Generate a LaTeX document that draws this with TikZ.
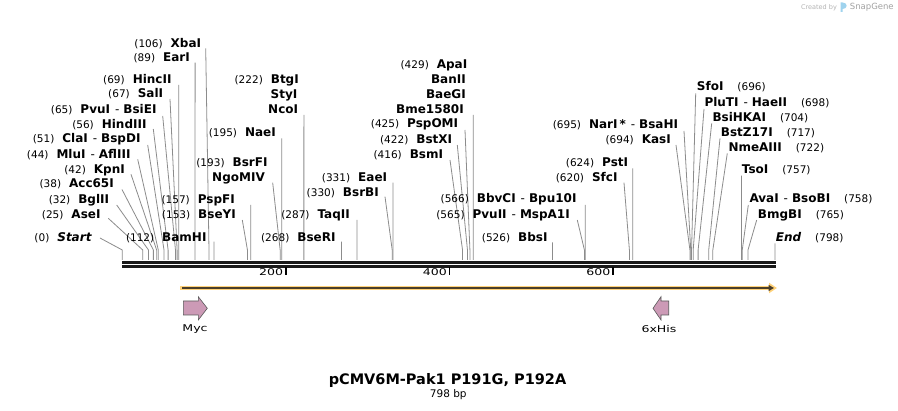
\documentclass[tikz,border=0pt]{standalone}
\usepackage{fontspec}
\usepackage{graphicx}
\setmainfont{DejaVu Sans}
\usetikzlibrary{arrows.meta}
\definecolor{leadc}{HTML}{8C8C8C}
\definecolor{featfill}{HTML}{CC9AB6}
\definecolor{orangeband}{HTML}{FFD27A}
\definecolor{darkline}{HTML}{4A3E2A}
\definecolor{logoblue}{HTML}{9FD3EE}
\definecolor{wmgrey}{HTML}{B4B4B4}
\newcommand\cnum[1]{{\fontsize{10.5}{12}\selectfont(#1)}}
\newcommand\cnm[1]{{\bfseries #1}}
\newcommand\lgap{\hspace{8pt}}
\newcommand\rgap{\hspace{14pt}}
\newcommand\dsh{{\mdseries\hspace{5pt}-\hspace{4pt}}}
\newcommand\wide[1]{\scalebox{1.35}[1]{#1}}
\newcommand\Ltxt[4]{\node[lab,anchor=east] (#1) at (#3,#4) {#2};}
\newcommand\Rtxt[4]{\node[lab,anchor=west] (#1) at (#3,#4) {#2};}
\newcommand\Lead[4]{\coordinate (#1a) at (#3,#4); \coordinate (#1s) at ({122.3+0.8179*#2},250); \draw[leader] (#1a) -- (#1s) -- ++(0,10);}
\tikzset{
  lab/.style={inner sep=0pt, text height=8.8pt, text depth=0pt, font=\fontsize{12}{14}\selectfont},
  leader/.style={draw=leadc, line width=0.8pt},
  barline/.style={line width=2.8pt, black!90},
  tickline/.style={line width=1.5pt, black},
  ticklab/.style={inner sep=0pt, anchor=east, font=\fontsize{9.3}{11}\selectfont},
  featlab/.style={inner sep=0pt, font=\fontsize{9.3}{11}\selectfont},
  featarrow/.style={fill=featfill, draw=black!65, line width=0.6pt, line join=miter}
}
\begin{document}
\begin{tikzpicture}[x=1pt,y=-1pt]
\useasboundingbox[fill=white] (0,0) rectangle (898,411);

% watermark
\node[inner sep=0pt, text=wmgrey, font=\fontsize{6.5}{8}\selectfont] (wm1) at (819,7.3) {Created by};
\fill[logoblue] (840.5,2.5) rectangle (842.5,12) (842.5,2.5) .. controls (848,2.5) and (848,9) .. (842.5,9) -- cycle;
\node[inner sep=0pt, text=wmgrey!90!black, font=\fontsize{8.5}{10}\selectfont] (wm2) at (871.8,7.3) {SnapGene};

% sequence bar
\coordinate (bl1) at (122,262.5); \coordinate (br1) at (776,262.5);
\coordinate (bl2) at (122,266.6); \coordinate (br2) at (776,266.6);
\draw[barline] (bl1) -- (br1);
\draw[barline] (bl2) -- (br2);

% ruler
\foreach \p/\t in {285.9/200, 449.5/400, 613.0/600}{
  \coordinate (tk\t) at (\p,267);
  \draw[tickline] (tk\t) -- ++(0,8);
  \node[ticklab] (tl\t) at (\p-2.5,272.5) {\wide{\t}};
}

% ---- left-anchored labels ----
\Ltxt{t106}{\cnum{106}\lgap\cnm{XbaI}}{201.3}{42.7}   \Lead{c106}{106}{205.7}{48.3}
\Ltxt{t89}{\cnum{89}\lgap\cnm{EarI}}{190}{56.7}       \Lead{c89}{89}{195.1}{62.7}
\Ltxt{t69}{\cnum{69}\lgap\cnm{HincII}}{171.7}{79.3}   \Lead{c69}{69}{178.7}{85}
\Ltxt{t67}{\cnum{67}\lgap\cnm{SalI}}{163.3}{92.7}     \Lead{c67}{67}{170}{99}
\Ltxt{t65}{\cnum{65}\lgap\cnm{PvuI\dsh BsiEI}}{156.7}{109} \Lead{c65}{65}{162.7}{116}
\Ltxt{t56}{\cnum{56}\lgap\cnm{HindIII}}{146.7}{124}   \Lead{c56}{56}{153.3}{129}
\Ltxt{t51}{\cnum{51}\lgap\cnm{ClaI\dsh BspDI}}{140.7}{138.3} \Lead{c51}{51}{147.7}{145}
\Ltxt{t44}{\cnum{44}\lgap\cnm{MluI\dsh AflIII}}{130.7}{154} \Lead{c44}{44}{137.7}{159.3}
\Ltxt{t42}{\cnum{42}\lgap\cnm{KpnI}}{125}{169}        \Lead{c42}{42}{131}{174.3}
\Ltxt{t38}{\cnum{38}\lgap\cnm{Acc65I}}{114}{183.3}    \Lead{c38}{38}{122}{189.5}
\Ltxt{t32}{\cnum{32}\lgap\cnm{BglII}}{109.3}{199}     \Lead{c32}{32}{116.7}{205}
\Ltxt{t25}{\cnum{25}\lgap\cnm{AseI}}{100.7}{214}      \Lead{c25}{25}{108.3}{218.3}
\Ltxt{t0}{\cnum{0}\lgap\cnm{\itshape Start}}{91.7}{236.7} \Lead{c0}{0}{100}{238}
\Ltxt{t112}{\cnum{112}\lgap\cnm{BamHI}}{206.7}{236.7} \Lead{c112}{112}{213.9}{241.7}
\Ltxt{t153}{\cnum{153}\lgap\cnm{BseYI}}{236}{214}     \Lead{c153}{153}{242.3}{220}
\Ltxt{t157}{\cnum{157}\lgap\cnm{PspFI}}{235}{199}     \Lead{c157}{157}{250.7}{205}
\Ltxt{t193}{\cnum{193}\lgap\cnm{BsrFI}}{267.7}{161.7}
\Ltxt{t193b}{\cnm{NgoMIV}}{265}{176.7}                 \Lead{c193}{193}{272.7}{182.7}
\Ltxt{t195}{\cnum{195}\lgap\cnm{NaeI}}{276}{131.7}    \Lead{c195}{195}{281.8}{138.3}
\Ltxt{t222}{\cnum{222}\lgap\cnm{BtgI}}{299}{79}
\Ltxt{t222b}{\cnm{StyI}}{297.5}{93.7}
\Ltxt{t222c}{\cnm{NcoI}}{298.3}{108.7}                 \Lead{c222}{222}{303.9}{115}
\Ltxt{t268}{\cnum{268}\lgap\cnm{BseRI}}{335.7}{236.7} \Lead{c268}{268}{341.5}{241.7}
\Ltxt{t287}{\cnum{287}\lgap\cnm{TaqII}}{350}{214}     \Lead{c287}{287}{357}{220}
\Ltxt{t330}{\cnum{330}\lgap\cnm{BsrBI}}{379}{191.7}   \Lead{c330}{330}{385}{196.7}
\Ltxt{t331}{\cnum{331}\lgap\cnm{EaeI}}{387.3}{176.7}  \Lead{c331}{331}{393}{182.7}
\Ltxt{t429}{\cnum{429}\lgap\cnm{ApaI}}{467.5}{64.3}
\Ltxt{t429b}{\cnm{BanII}}{466}{79}
\Ltxt{t429c}{\cnm{BaeGI}}{466}{93.7}
\Ltxt{t429d}{\cnm{Bme1580I}}{464}{108.7}               \Lead{c429}{429}{473.2}{115}
\Ltxt{t425}{\cnum{425}\lgap\cnm{PspOMI}}{458.3}{123.3} \Lead{c425}{425}{465}{130}
\Ltxt{t422}{\cnum{422}\lgap\cnm{BstXI}}{452.3}{139}   \Lead{c422}{422}{457.3}{145}
\Ltxt{t416}{\cnum{416}\lgap\cnm{BsmI}}{443.3}{154}    \Lead{c416}{416}{450}{160}
\Ltxt{t566}{\cnum{566}\lgap\cnm{BbvCI\dsh Bpu10I}}{576.7}{198.3} \Lead{c566}{566}{585.2}{205}
\Ltxt{t565}{\cnum{565}\lgap\cnm{PvuII\dsh MspA1I}}{570}{214} \Lead{c565}{565}{577.3}{220}
\Ltxt{t526}{\cnum{526}\lgap\cnm{BbsI}}{547.7}{236.7}  \Lead{c526}{526}{552.5}{242.3}
\Ltxt{t624}{\cnum{624}\lgap\cnm{PstI}}{628.3}{162.3}  \Lead{c624}{624}{632.7}{168.3}
\Ltxt{t620}{\cnum{620}\lgap\cnm{SfcI}}{617.7}{176.7}  \Lead{c620}{620}{624}{182.7}
\Ltxt{t695}{\cnum{695}\lgap\cnm{NarI\,*\dsh BsaHI}}{678.3}{124} \Lead{c695}{695}{684}{131}
\Ltxt{t694}{\cnum{694}\lgap\cnm{KasI}}{671}{139.3}    \Lead{c694}{694}{676}{145}

% ---- right-anchored labels ----
\Rtxt{t696}{\cnm{SfoI}\rgap\cnum{696}}{696.7}{86}     \Lead{c696}{696}{695.7}{93.3}
\Rtxt{t698}{\cnm{PluTI\dsh HaeII}\rgap\cnum{698}}{704.3}{102.3} \Lead{c698}{698}{704}{109}
\Rtxt{t704}{\cnm{BsiHKAI}\rgap\cnum{704}}{712.3}{117.3} \Lead{c704}{704}{711.7}{123.3}
\Rtxt{t717}{\cnm{BstZ17I}\rgap\cnum{717}}{720.7}{132} \Lead{c717}{717}{720}{138.3}
\Rtxt{t722}{\cnm{NmeAIII}\rgap\cnum{722}}{728.3}{147} \Lead{c722}{722}{727.3}{153.3}
\Rtxt{t757}{\cnm{TsoI}\rgap\cnum{757}}{741.7}{169}    \Lead{c757}{757}{741.5}{175.7}
\Rtxt{t758}{\cnm{AvaI\dsh BsoBI}\rgap\cnum{758}}{749.3}{198.3} \Lead{c758}{758}{748.3}{205}
\Rtxt{t765}{\cnm{BmgBI}\rgap\cnum{765}}{757.7}{214}   \Lead{c765}{765}{756.7}{220}
\Rtxt{t798}{\cnm{\itshape End}\rgap\cnum{798}}{775.7}{236.7} \Lead{c798}{798}{775}{243.3}

% ---- ORF arrow ----
\coordinate (orfA) at (180,288); \coordinate (orfB) at (777,288);
\coordinate (orfC) at (182,288); \coordinate (orfD) at (774,288);
\draw[orangeband, line width=4.5pt, -{Triangle[length=8pt,width=10pt]}] (orfA) -- (orfB);
\draw[darkline, line width=1.6pt, -{Triangle[length=5.5pt,width=6pt]}] (orfC) -- (orfD);

% ---- features ----
\draw[featarrow] (183.3,301) -- (198.3,301) -- (198.3,296.7) -- (207.3,308.3) -- (198.3,320) -- (198.3,315) -- (183.3,315) -- cycle;
\node[featlab] (myc) at (195,329.5) {\wide{Myc}};
\draw[featarrow] (668.7,301) -- (661,301) -- (661,296.7) -- (653,308.3) -- (661,320) -- (661,315) -- (668.7,315) -- cycle;
\node[featlab] (his) at (659,329.5) {\wide{6xHis}};

% ---- title ----
\node[inner sep=0pt, font=\fontsize{14.5}{16}\selectfont\bfseries] (title) at (447.5,380.7) {pCMV6M-Pak1 P191G, P192A};
\node[inner sep=0pt, font=\fontsize{10.5}{12}\selectfont] (len) at (448.3,395) {798 bp};
\end{tikzpicture}
\end{document}
